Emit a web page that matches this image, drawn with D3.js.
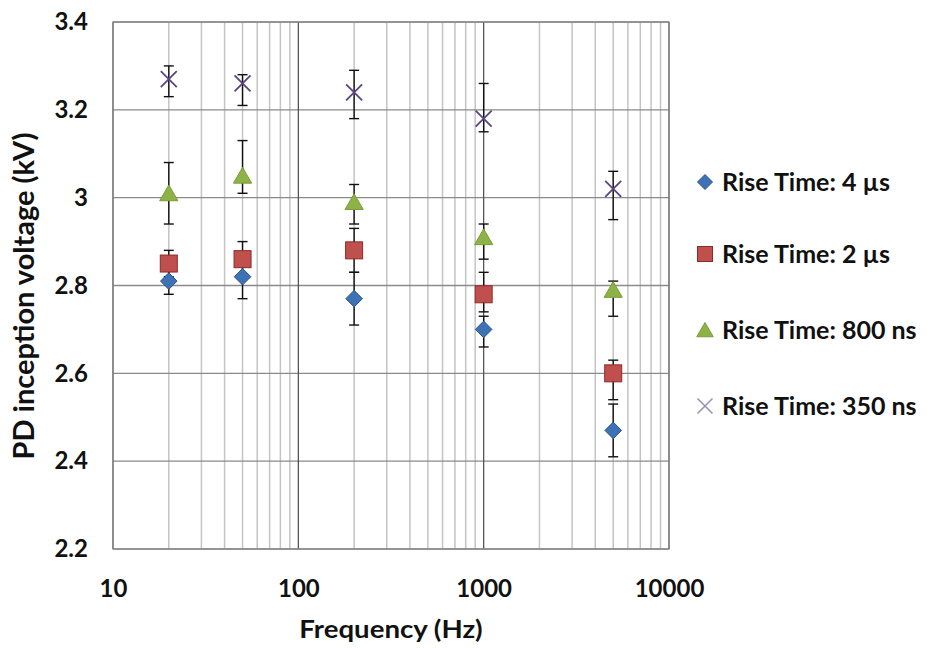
<!DOCTYPE html>
<html>
<head>
<meta charset="utf-8">
<script src="https://cdn.jsdelivr.net/npm/d3@7"></script>
<style>
  html, body { margin: 0; padding: 0; background: #fff; }
  svg { display: block; }
  text { font-family: Lato, "Open Sans", "DejaVu Sans", sans-serif; font-weight: bold; fill: #111; }
</style>
</head>
<body>
<svg id="chart" width="927" height="648"></svg>
<script>
// Frequencies tested (Hz)
const frequencies = [20, 50, 200, 1000, 5000];

// Series names
const seriesNames = ["Rise Time: 4 \u00b5s", "Rise Time: 2 \u00b5s", "Rise Time: 800 ns", "Rise Time: 350 ns"];

// Mean PD inception voltage (kV)
const rt4us   = [2.81, 2.82, 2.77, 2.70, 2.47];
const rt2us   = [2.85, 2.86, 2.88, 2.78, 2.60];
const rt800ns = [3.01, 3.05, 2.99, 2.91, 2.79];
const rt350ns = [3.27, 3.26, 3.24, 3.18, 3.02];

// Error bar upper / lower limits (kV)
const rt4usHi   = [2.84, 2.85, 2.83, 2.73, 2.53];
const rt4usLo   = [2.78, 2.77, 2.71, 2.66, 2.41];
const rt2usHi   = [2.88, 2.90, 2.93, 2.83, 2.63];
const rt2usLo   = [2.82, 2.82, 2.83, 2.74, 2.54];
const rt800nsHi = [3.08, 3.13, 3.03, 2.94, 2.81];
const rt800nsLo = [2.94, 3.01, 2.94, 2.86, 2.73];
const rt350nsHi = [3.30, 3.28, 3.29, 3.26, 3.06];
const rt350nsLo = [3.23, 3.21, 3.18, 3.15, 2.95];

// Axis ticks
const xTicks = [10, 100, 1000, 10000];
const yTicks = [2.2, 2.4, 2.6, 2.8, 3.0, 3.2, 3.4];

const series = [
  { name: seriesNames[0], values: rt4us,   hi: rt4usHi,   lo: rt4usLo,   shape: "diamond",  fill: "#3d72b4", stroke: "#2a5590" },
  { name: seriesNames[1], values: rt2us,   hi: rt2usHi,   lo: rt2usLo,   shape: "square",   fill: "#c0504d", stroke: "#8c2a27" },
  { name: seriesNames[2], values: rt800ns, hi: rt800nsHi, lo: rt800nsLo, shape: "triangle", fill: "#8db346", stroke: "#7a9d3a" },
  { name: seriesNames[3], values: rt350ns, hi: rt350nsHi, lo: rt350nsLo, shape: "x",        fill: "none",    stroke: "#5b4580" }
];

const svg = d3.select("#chart");
const plot = { left: 113, right: 669, top: 22, bottom: 549 };

const x = d3.scaleLog().domain([10, 10000]).range([plot.left, plot.right]);
const y = d3.scaleLinear().domain([2.2, 3.4]).range([plot.bottom, plot.top]);

const g = svg.append("g");

// Minor vertical gridlines (2..9 within each decade)
const minor = [];
for (let d = 10; d < 10000; d *= 10) for (let k = 2; k <= 9; k++) minor.push(d * k);
g.append("g").selectAll("line").data(minor).join("line")
  .attr("x1", d => x(d)).attr("x2", d => x(d))
  .attr("y1", plot.top).attr("y2", plot.bottom)
  .attr("stroke", "#c4c4c4").attr("stroke-width", 1.5);

// Horizontal gridlines
g.append("g").selectAll("line").data(yTicks).join("line")
  .attr("x1", plot.left).attr("x2", plot.right)
  .attr("y1", d => y(d)).attr("y2", d => y(d))
  .attr("stroke", "#8a8a8a").attr("stroke-width", 1.3);

// Major vertical gridlines at decades
g.append("g").selectAll("line").data(xTicks).join("line")
  .attr("x1", d => x(d)).attr("x2", d => x(d))
  .attr("y1", plot.top).attr("y2", plot.bottom)
  .attr("stroke", "#4a4a4a").attr("stroke-width", 1.2);

// Plot frame
g.append("rect")
  .attr("x", plot.left).attr("y", plot.top)
  .attr("width", plot.right - plot.left).attr("height", plot.bottom - plot.top)
  .attr("fill", "none").attr("stroke", "#8a8a8a").attr("stroke-width", 1.3);

// Axes (labels only; lines drawn as gridlines)
const xAxis = d3.axisBottom(x).tickValues(xTicks).tickFormat(d3.format("d")).tickSize(0).tickPadding(31);
const xa = g.append("g").attr("transform", `translate(0,${plot.bottom})`).call(xAxis);
xa.select(".domain").remove();
xa.selectAll("text").attr("font-size", 24).style("font-family", "Lato, sans-serif").style("font-weight", "bold").attr("fill", "#111");

const yAxis = d3.axisLeft(y).tickValues(yTicks).tickFormat(d => d3.format("")(+d.toFixed(1))).tickSize(0).tickPadding(25);
const ya = g.append("g").attr("transform", `translate(${plot.left},0)`).call(yAxis);
ya.select(".domain").remove();
ya.selectAll("text").attr("font-size", 24).style("font-family", "Lato, sans-serif").style("font-weight", "bold").attr("fill", "#111");

// Axis titles
svg.append("g").attr("transform", "translate(391,638) scale(1.15,1)")
  .append("text").attr("text-anchor", "middle").attr("font-size", 24).text("Frequency (Hz)");
svg.append("text").attr("transform", "translate(34,296) rotate(-90)").attr("text-anchor", "middle")
  .attr("font-size", 29).text("PD inception voltage (kV)");

// Marker drawing
function drawMarker(sel, shape, fill, stroke, size) {
  const s = size;
  if (shape === "diamond") {
    sel.append("path").attr("d", `M0,${-s}L${s},0L0,${s}L${-s},0Z`)
      .attr("fill", fill).attr("stroke", stroke).attr("stroke-width", 1);
  } else if (shape === "square") {
    sel.append("rect").attr("x", -s).attr("y", -s).attr("width", 2 * s).attr("height", 2 * s)
      .attr("fill", fill).attr("stroke", stroke).attr("stroke-width", 1);
  } else if (shape === "triangle") {
    sel.append("path").attr("d", `M0,${-s}L${s * 1.1},${s * 0.9}L${-s * 1.1},${s * 0.9}Z`)
      .attr("fill", fill).attr("stroke", stroke).attr("stroke-width", 1);
  } else {
    sel.append("path").attr("d", `M${-s},${-s}L${s},${s}M${-s},${s}L${s},${-s}`)
      .attr("fill", "none").attr("stroke", stroke).attr("stroke-width", 1.8);
  }
}

const markerSize = { diamond: 8.3, square: 8.5, triangle: 8.3, x: 8 };

// Error bars first, markers on top
series.forEach(s => {
  const pts = frequencies.map((f, i) => ({ f, v: s.values[i], hi: s.hi[i], lo: s.lo[i] }));
  const eb = g.append("g");
  pts.forEach(p => {
    const cx = x(p.f);
    eb.append("line").attr("x1", cx).attr("x2", cx).attr("y1", y(p.hi)).attr("y2", y(p.lo))
      .attr("stroke", "#111").attr("stroke-width", 1.4);
    [p.hi, p.lo].forEach(v => {
      eb.append("line").attr("x1", cx - 5).attr("x2", cx + 5).attr("y1", y(v)).attr("y2", y(v))
        .attr("stroke", "#111").attr("stroke-width", 1.4);
    });
  });
});

series.forEach(s => {
  const mg = g.append("g");
  frequencies.forEach((f, i) => {
    const m = mg.append("g").attr("transform", `translate(${x(f)},${y(s.values[i])})`);
    drawMarker(m, s.shape, s.fill, s.stroke, markerSize[s.shape]);
  });
});

// Legend
const legendRows = [182, 254, 330, 406];
const legend = svg.append("g");
series.forEach((s, i) => {
  const row = legend.append("g").attr("transform", `translate(705,${legendRows[i]})`);
  const m = row.append("g");
  const isX = s.shape === "x";
  drawMarker(m, s.shape, s.fill, isX ? "#9a8cb8" : s.stroke, isX ? 7.5 : 7.5);
  if (isX) m.select("path").attr("stroke-width", 1.5);
  row.append("text").attr("x", 17).attr("y", 9).attr("font-size", 25).text(s.name);
});
</script>
</body>
</html>
